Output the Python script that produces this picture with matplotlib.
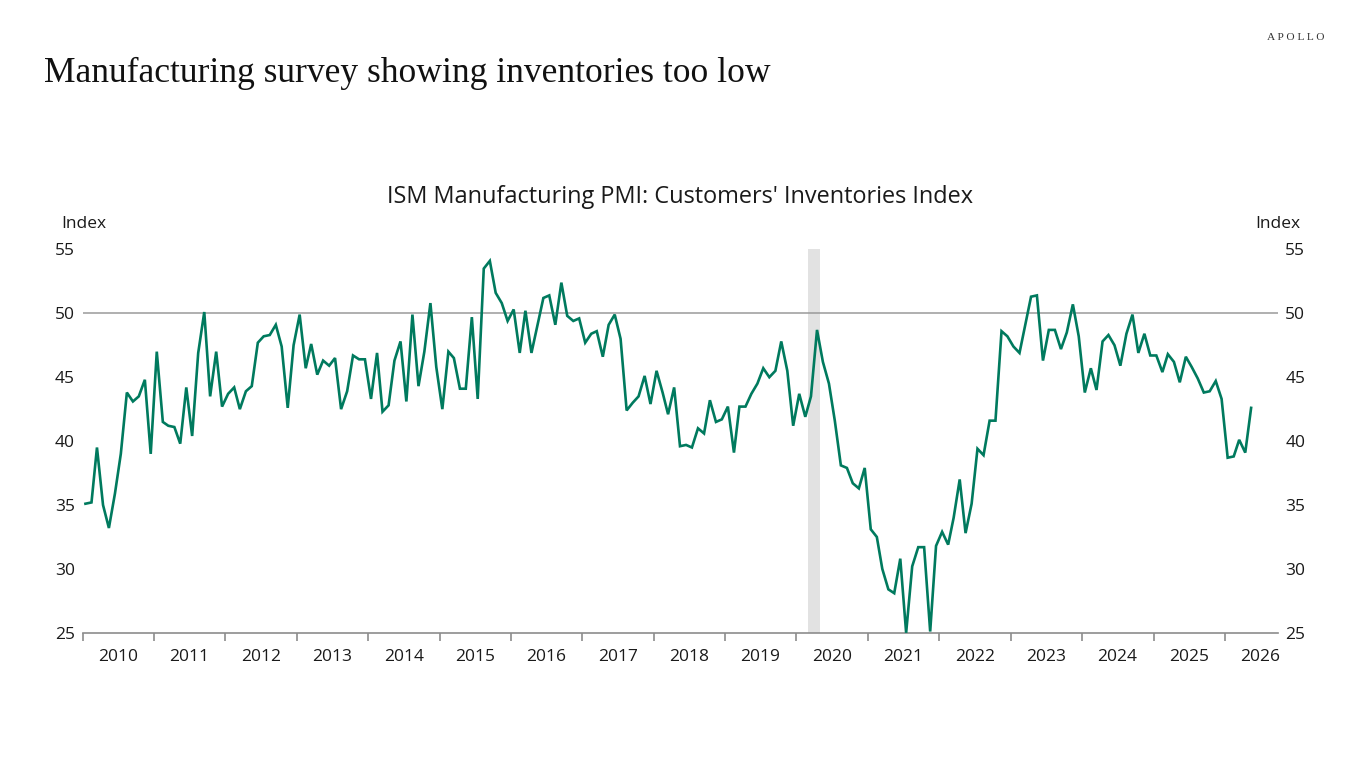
import numpy as np
import matplotlib
matplotlib.use("Agg")
import matplotlib.pyplot as plt
import matplotlib.dates as mdates
import datetime as dt

# ---- data (monthly, Jan 2010 - May 2026) ----
v2010 = [35.1, 35.2, 39.5, 35.0, 33.2, 35.9, 39.0, 43.8, 43.1, 43.5, 44.8, 39.0]
v2011 = [47.0, 41.5, 41.2, 41.1, 39.8, 44.2, 40.4, 46.9, 50.1, 43.5, 47.0, 42.7]
v2012 = [43.7, 44.2, 42.5, 43.9, 44.3, 47.7, 48.2, 48.3, 49.1, 47.4, 42.6, 47.5]
v2013 = [49.9, 45.7, 47.6, 45.2, 46.3, 45.9, 46.5, 42.5, 43.9, 46.7, 46.4, 46.4]
v2014 = [43.3, 46.9, 42.3, 42.8, 46.3, 47.8, 43.1, 49.9, 44.3, 47.0, 50.8, 45.8]
v2015 = [42.5, 47.0, 46.5, 44.1, 44.1, 49.7, 43.3, 53.5, 54.1, 51.6, 50.8, 49.4]
v2016 = [50.3, 46.9, 50.2, 46.9, 49.0, 51.2, 51.4, 49.1, 52.4, 49.8, 49.4, 49.6]
v2017 = [47.7, 48.4, 48.6, 46.6, 49.1, 49.9, 48.0, 42.4, 43.0, 43.5, 45.1, 42.9]
v2018 = [45.5, 43.8, 42.1, 44.2, 39.6, 39.7, 39.5, 41.0, 40.6, 43.2, 41.5, 41.7]
v2019 = [42.7, 39.1, 42.7, 42.7, 43.7, 44.5, 45.7, 45.0, 45.5, 47.8, 45.5, 41.2]
v2020 = [43.7, 41.9, 43.5, 48.7, 46.2, 44.5, 41.6, 38.1, 37.9, 36.7, 36.3, 37.9]
v2021 = [33.1, 32.5, 30.0, 28.4, 28.1, 30.8, 25.0, 30.2, 31.7, 31.7, 25.1, 31.8]
v2022 = [32.9, 31.9, 34.0, 37.0, 32.8, 35.1, 39.4, 38.9, 41.6, 41.6, 48.6, 48.2]
v2023 = [47.4, 46.9, 49.0, 51.3, 51.4, 46.3, 48.7, 48.7, 47.2, 48.5, 50.7, 48.2]
v2024 = [43.8, 45.7, 44.0, 47.8, 48.3, 47.5, 45.9, 48.4, 49.9, 46.9, 48.4, 46.7]
v2025 = [46.7, 45.4, 46.8, 46.2, 44.6, 46.6, 45.8, 44.9, 43.8, 43.9, 44.7, 43.3]
v2026 = [38.7, 38.8, 40.1, 39.1, 42.6]

values = (v2010 + v2011 + v2012 + v2013 + v2014 + v2015 + v2016 + v2017 + v2018
          + v2019 + v2020 + v2021 + v2022 + v2023 + v2024 + v2025 + v2026)
start_month = "2010-01"
recession = ("2020-03-01", "2020-04-30")
threshold = 50

months = np.arange(np.datetime64(start_month), np.datetime64(start_month) + len(values),
                   dtype="datetime64[M]")
dates = months.astype("datetime64[D]") + np.timedelta64(14, "D")

# ---- figure ----
W, H = 1366, 768
fig = plt.figure(figsize=(W / 100, H / 100), dpi=100)
ax = fig.add_axes([82.7 / W, 1 - 632.8 / H, (1277.7 - 82.7) / W, (632.8 - 249.4) / H])

line_color = "#007a5e"
text_color = "#1a1a1a"
sans = ["Open Sans", "DejaVu Sans"]

ax.axvspan(np.datetime64(recession[0]), np.datetime64(recession[1]),
           color="#e2e2e2", lw=0, zorder=1)
ax.axhline(threshold, color="#9a9a9a", lw=1.1, zorder=2)
ax.plot(dates, values, color=line_color, lw=1.9, zorder=3, solid_joinstyle="miter")

ax.set_xlim(dt.date(2010, 1, 1), dt.date(2026, 9, 28))
ax.set_ylim(25, 55)
ax.set_yticks(range(25, 56, 5))

for s in ["top", "left", "right"]:
    ax.spines[s].set_visible(False)
ax.spines["bottom"].set_color("#8c8c8c")
ax.spines["bottom"].set_linewidth(1.2)

ax.xaxis.set_major_locator(mdates.YearLocator(1, month=1, day=1))
ax.xaxis.set_major_formatter(matplotlib.ticker.NullFormatter())
ax.xaxis.set_minor_locator(mdates.YearLocator(1, month=7, day=1))
ax.xaxis.set_minor_formatter(mdates.DateFormatter("%Y"))
ax.tick_params(axis="x", which="major", length=6, width=1.2, color="#8c8c8c", direction="out")
ax.tick_params(axis="x", which="minor", length=0, pad=12, labelsize=12.5, labelcolor=text_color)
for lab in ax.xaxis.get_minorticklabels():
    lab.set_family(sans)

ax.tick_params(axis="y", length=0, pad=5.5, labelsize=12.5, labelcolor=text_color,
               labelleft=True, labelright=True)
for lab in ax.get_yticklabels():
    lab.set_family(sans)

# ---- texts ----
fig.text(44 / W, 1 - 73 / H, "Manufacturing survey showing inventories too low",
         family=["Liberation Serif", "DejaVu Serif"], fontsize=25.6, color="#111111",
         ha="left", va="center")
fig.text(1296 / W, 1 - 38 / H, "A P O L L O", family=["Liberation Serif", "DejaVu Serif"],
         fontsize=8.2, color="#333333", ha="center", va="center")
fig.text(680 / W, 1 - 197 / H, "ISM Manufacturing PMI: Customers' Inventories Index",
         family=sans, fontsize=16.9, color=text_color, ha="center", va="center")
fig.text(61 / W, 1 - 224 / H, "Index", family=sans, fontsize=12.5, color=text_color,
         ha="left", va="center")
fig.text(1300 / W, 1 - 224 / H, "Index", family=sans, fontsize=12.5, color=text_color,
         ha="right", va="center")

fig.savefig("out.png", dpi=100)
